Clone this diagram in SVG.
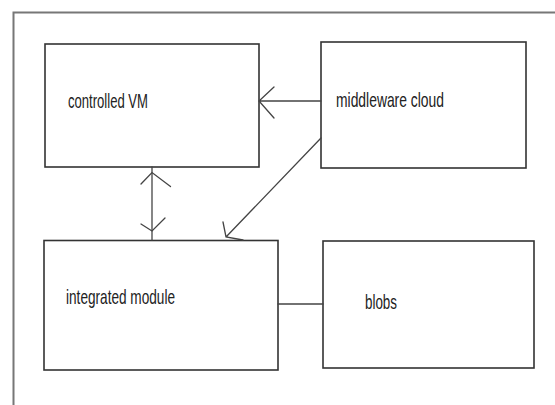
<svg xmlns="http://www.w3.org/2000/svg" width="555" height="405" viewBox="0 0 555 405">
  <style>
    .box { fill: #ffffff; stroke: #333333; stroke-width: 1.6; }
    .frame { fill: none; stroke: #777777; stroke-width: 2; }
    .wire { fill: none; stroke: #444444; stroke-width: 1.3; stroke-linecap: round; }
    .label { font-family: "Liberation Sans", Arial, sans-serif; font-size: 21px; fill: #222222; }
  </style>
  <rect width="555" height="405" fill="#ffffff"/>
  <!-- page frame, open at right and bottom -->
  <path class="frame" d="M13.5,405 V12.5 H555"/>

  <g id="controlled-vm">
    <rect class="box" x="45" y="44" width="214" height="123"/>
    <text class="label" x="68" y="108" textLength="80" lengthAdjust="spacingAndGlyphs">controlled VM</text>
  </g>

  <g id="middleware-cloud">
    <rect class="box" x="321" y="42" width="205" height="126"/>
    <text class="label" x="336" y="107" textLength="108" lengthAdjust="spacingAndGlyphs">middleware cloud</text>
  </g>

  <g id="integrated-module">
    <rect class="box" x="44" y="240.5" width="234" height="129.5"/>
    <text class="label" x="66" y="304" textLength="109" lengthAdjust="spacingAndGlyphs">integrated module</text>
  </g>

  <g id="blobs">
    <rect class="box" x="323" y="241" width="211" height="127"/>
    <text class="label" x="365" y="309" textLength="32" lengthAdjust="spacingAndGlyphs">blobs</text>
  </g>

  <g id="connectors">
    <!-- middleware cloud -> controlled VM -->
    <path class="wire" d="M321,101 H259 M274,87 L259,101 L274,118"/>
    <!-- middleware cloud -> integrated module -->
    <path class="wire" d="M321,138 L226,237 M223,222 L226,237 L243,240"/>
    <!-- controlled VM <-> integrated module -->
    <path class="wire" d="M152,167 V240"/>
    <path class="wire" d="M141,184 L152,172.5 L170.5,186.5"/>
    <path class="wire" d="M141,224 L152,231 L165,218"/>
    <!-- integrated module - blobs -->
    <path class="wire" d="M278,304 H323"/>
  </g>
</svg>
